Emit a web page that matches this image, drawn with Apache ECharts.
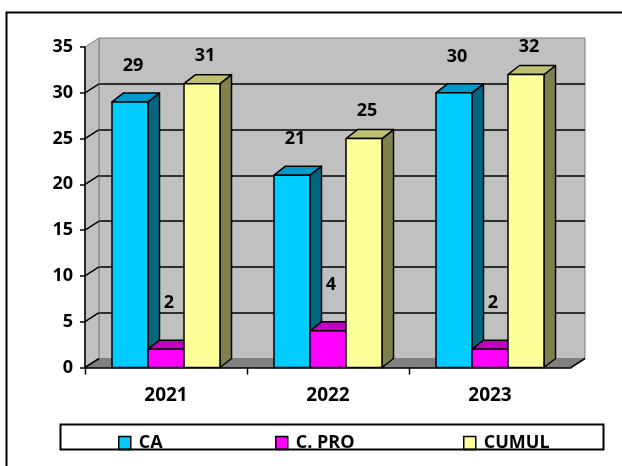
<!DOCTYPE html>
<html><head><meta charset="utf-8">
<script src="https://cdn.jsdelivr.net/npm/echarts@6/dist/echarts.min.js"></script>
<style>html,body{margin:0;padding:0;background:#fff}#c{width:622px;height:466px}</style>
</head><body><div id="c"></div>
<script>
// ---- data ----
const categories = ['2021', '2022', '2023'];
const seriesNames = ['CA', 'C. PRO', 'CUMUL'];
const caValues = [29, 21, 30];
const cproValues = [2, 4, 2];
const cumulValues = [31, 25, 32];
const yMin = 0, yMax = 35, yStep = 5;

// ---- style ----
const FONT = '"Open Sans"';
const WEIGHT = 'bold';
const DX = 14, DY = -9;        // wall depth offset
const BDX = 11.5, BDY = -9;    // bar depth offset
const BAR_FRAC = 36 / 162;
const palettes = [
  { front: '#00CCFF', top: '#0099CC', side: '#006680', lift: 36 },
  { front: '#FF00FF', top: '#C000C0', side: '#800080', lift: 46 },
  { front: '#FFFF99', top: '#C0C073', side: '#80804C', lift: 28 }
];
const valueSets = [caValues, cproValues, cumulValues];

function decorRender(params, api) {
  const cs = params.coordSys;
  const xl = cs.x, xr = cs.x + cs.width;
  const y0 = api.coord([0, yMin])[1];
  const yT = api.coord([0, yMax])[1];
  const cw = api.size([1, 0])[0];
  const ch = [];
  ch.push({ type: 'polygon', shape: { points: [[xl, yT], [xl + DX, yT + DY], [xl + DX, y0 + DY], [xl, y0]] },
    style: { fill: '#C0C0C0', stroke: '#808080', lineWidth: 1 } });
  ch.push({ type: 'polygon', shape: { points: [[xl, y0], [xr, y0], [xr + DX, y0 + DY], [xl + DX, y0 + DY]] },
    style: { fill: '#808080', stroke: '#808080', lineWidth: 1 } });
  for (let v = yMin; v < yMax; v += yStep) {
    const y = api.coord([0, v])[1];
    ch.push({ type: 'line', shape: { x1: xl, y1: y, x2: xl + DX, y2: y + DY }, style: { stroke: '#000', lineWidth: 1.5 } });
  }
  ch.push({ type: 'line', shape: { x1: xr, y1: y0, x2: xr + DX, y2: y0 + DY }, style: { stroke: '#000', lineWidth: 1.5 } });
  for (let i = 0; i < categories.length; i++) {
    const x = Math.round(xl + i * cw) + 0.5;
    ch.push({ type: 'line', shape: { x1: x, y1: y0, x2: x, y2: y0 + 7 }, style: { stroke: '#000', lineWidth: 1.5 } });
  }
  return { type: 'group', children: ch };
}

function barRender(si) {
  return function (params, api) {
    const idx = api.value(0), val = api.value(1);
    const p = api.coord([idx, val]), b = api.coord([idx, 0]);
    const bw = api.size([1, 0])[0] * BAR_FRAC;
    const x0 = p[0] + (si - 1) * bw - bw / 2, x1 = x0 + bw, yt = p[1], yb = b[1];
    const pal = palettes[si];
    const st = { stroke: '#000', lineWidth: 1.5, lineJoin: 'round' };
    const zb = si * 10;
    return { type: 'group', children: [
      { type: 'polygon', z2: zb, shape: { points: [[x1, yt], [x1 + BDX, yt + BDY], [x1 + BDX, yb + BDY], [x1, yb]] }, style: Object.assign({ fill: pal.side }, st) },
      { type: 'polygon', z2: zb + 1, shape: { points: [[x0, yt], [x1, yt], [x1 + BDX, yt + BDY], [x0 + BDX, yt + BDY]] }, style: Object.assign({ fill: pal.top }, st) },
      { type: 'rect', z2: zb + 2, shape: { x: x0, y: yt, width: bw, height: yb - yt }, style: Object.assign({ fill: pal.front }, st) },
      { type: 'text', z2: 100, style: { text: String(val), x: (x0 + x1) / 2 + 3, y: yt - pal.lift,
          textAlign: 'center', textVerticalAlign: 'middle', font: WEIGHT + ' 18px ' + FONT, fill: '#000' } }
    ] };
  };
}

const chart = echarts.init(document.getElementById('c'), null, { renderer: 'canvas' });
const labelStyle = { color: '#000', fontFamily: 'Open Sans', fontWeight: WEIGHT };
const legendLeft = [118, 275, 463];

const option = {
  animation: false,
  backgroundColor: '#fff',
  grid: [
    { left: 85, right: 51, top: 47, bottom: 98.5, containLabel: false },
    { left: 99, right: 37, top: 38, bottom: 107.5, containLabel: false, show: true,
      backgroundColor: '#C0C0C0', borderColor: '#808080', borderWidth: 1 }
  ],
  xAxis: [
    { gridIndex: 0, type: 'category', data: categories, z: 3,
      axisLine: { lineStyle: { color: '#000', width: 1.5 } },
      axisTick: { show: false },
      axisLabel: Object.assign({ fontSize: 19, margin: 19 }, labelStyle),
      splitLine: { show: false } },
    { gridIndex: 1, type: 'category', data: categories, show: false }
  ],
  yAxis: [
    { gridIndex: 0, type: 'value', min: yMin, max: yMax, interval: yStep, z: 3,
      axisLine: { show: true, lineStyle: { color: '#000', width: 1.5 } },
      axisTick: { show: true, length: 5, lineStyle: { color: '#000', width: 1.5 } },
      axisLabel: Object.assign({ fontSize: 18, margin: 12 }, labelStyle),
      splitLine: { show: false } },
    { gridIndex: 1, type: 'value', min: yMin, max: yMax, interval: yStep,
      axisLine: { show: false }, axisTick: { show: false }, axisLabel: { show: false },
      splitLine: { show: true, showMaxLine: false, showMinLine: false, lineStyle: { color: '#000', width: 1.5 } } }
  ],
  legend: seriesNames.map((n, i) => ({
    data: [n], left: legendLeft[i], top: 434, padding: 0, itemWidth: 12, itemHeight: 13,
    icon: 'rect', selectedMode: false,
    itemStyle: { borderColor: '#000', borderWidth: 1.5 },
    textStyle: Object.assign({ fontSize: 18, padding: [4, 0, 0, 3] }, labelStyle)
  })),
  graphic: [
    { type: 'rect', z: 100, silent: true, shape: { x: 6.5, y: 12.5, width: 720, height: 520 },
      style: { fill: 'none', stroke: '#000', lineWidth: 2 } },
    { type: 'rect', z: 100, silent: true, shape: { x: 60.5, y: 424.5, width: 543, height: 25 },
      style: { fill: 'none', stroke: '#000', lineWidth: 2 } }
  ],
  series: [
    { type: 'custom', name: '_decor', xAxisIndex: 0, yAxisIndex: 0, z: 1, silent: true,
      renderItem: decorRender, data: [[0, 0]] }
  ].concat(seriesNames.map((n, si) => ({
    type: 'custom', name: n, xAxisIndex: 0, yAxisIndex: 0, z: 2,
    itemStyle: { color: palettes[si].front, borderColor: '#000', borderWidth: 1.5 },
    renderItem: barRender(si),
    encode: { x: 0, y: 1 },
    data: categories.map((c, i) => [i, valueSets[si][i]])
  })))
};
chart.setOption(option);
</script></body></html>
